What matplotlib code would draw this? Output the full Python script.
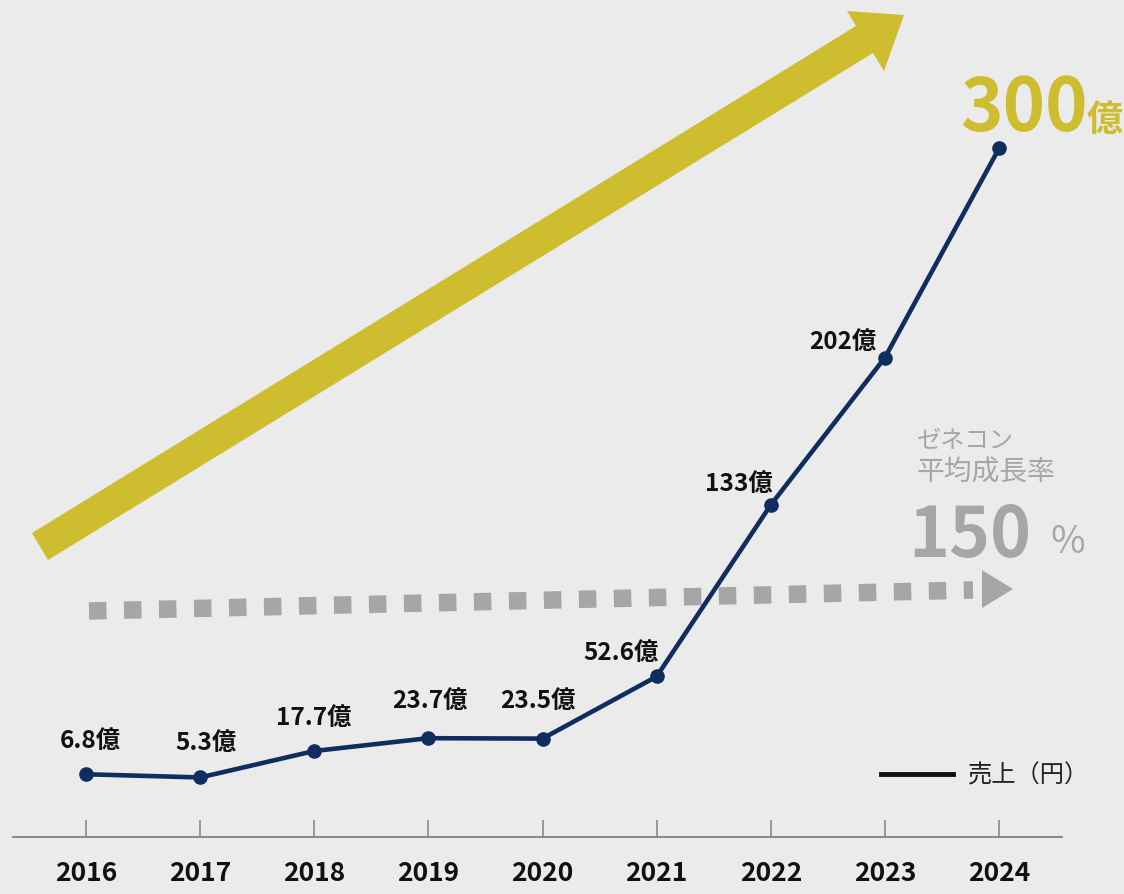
import matplotlib.pyplot as plt
from matplotlib.patches import Polygon

plt.rcParams['font.family'] = ['Noto Sans CJK JP', 'DejaVu Sans']

# データ
years = [2016, 2017, 2018, 2019, 2020, 2021, 2022, 2023, 2024]
sales = [6.8, 5.3, 17.7, 23.7, 23.5, 52.6, 133, 202, 300]
labels = ['6.8億', '5.3億', '17.7億', '23.7億', '23.5億', '52.6億', '133億', '202億', '']
# ラベル位置のずれ (pixel)
label_dx = [4, 6, -1, 1, -5, -36, -32, -42, 0]
label_dy = [34, 35, 34, 38, 39, 25, 22, 17, 0]

bg = '#ebebeb'
navy = '#0f2d5e'
yellow = '#cdbd2f'
grey = '#a6a6a6'

fig = plt.figure(figsize=(11.24, 8.95), dpi=100)
fig.patch.set_facecolor(bg)

# 背景の装飾 (pixel座標)
deco = fig.add_axes([0, 0, 1, 1])
deco.set_xlim(0, 1124)
deco.set_ylim(895, 0)
deco.set_facecolor(bg)
deco.axis('off')

yarrow = [(32, 534), (856, 27), (847, 12), (904, 16), (884, 72), (873, 54), (48, 561)]
deco.add_patch(Polygon(yarrow, closed=True, facecolor=yellow, edgecolor='none'))

deco.plot([89, 973], [612, 591], color=grey, lw=12.6, linestyle=(0, (1, 1)),
          solid_capstyle='butt', dash_capstyle='butt')
deco.add_patch(Polygon([(982, 571), (982, 609), (1013, 590)], closed=True,
                       facecolor=grey, edgecolor='none'))

deco.text(960, 131, '300', color=yellow, fontsize=52, fontweight='bold',
          ha='left', va='baseline')
deco.text(1087, 131, '億', color=yellow, fontsize=26, fontweight='bold',
          ha='left', va='baseline')

deco.text(917, 441, 'ゼネコン', color=grey, fontsize=17.5, ha='left', va='center')
deco.text(917, 473, '平均成長率', color=grey, fontsize=20, ha='left', va='center')
deco.text(908, 557, '150', color=grey, fontsize=50, fontweight='bold',
          ha='left', va='baseline')
deco.text(1051, 553, '%', color=grey, fontsize=27, ha='left', va='baseline')

deco.plot([881, 953], [775, 775], color='#111111', lw=3.5)
deco.text(968, 776, '売上（円）', color='#222222', fontsize=17.5, ha='left', va='center')

# 折れ線グラフ
ax = fig.add_axes([0, 0, 1, 1])
ax.set_facecolor('none')
ax.set_xlim(2015.246, 2025.095)
ax.set_ylim(-49.3, 370.0)

ax.plot(years, sales, color=navy, lw=3.3, marker='o', markersize=9.5, zorder=5)

for x, y, t, dx, dy in zip(years, sales, labels, label_dx, label_dy):
    if t:
        ax.annotate(t, (x, y), xytext=(dx, dy), textcoords='offset pixels',
                    ha='center', va='center', fontsize=17.5, fontweight='bold',
                    color='#111111')

for s in ['top', 'left', 'right']:
    ax.spines[s].set_visible(False)
ax.spines['bottom'].set_position(('data', -22.6))
ax.spines['bottom'].set_bounds(2015.36, 2024.55)
ax.spines['bottom'].set_color('#808080')
ax.spines['bottom'].set_linewidth(1.3)
ax.set_yticks([])
ax.set_xticks(years)
ax.set_xticklabels([str(y) for y in years], fontsize=19, fontweight='bold', color='#111111')
ax.tick_params(axis='x', direction='in', length=12.5, width=1.1, color='#808080', pad=16)

fig.savefig('out.png', dpi=100, facecolor=bg)
